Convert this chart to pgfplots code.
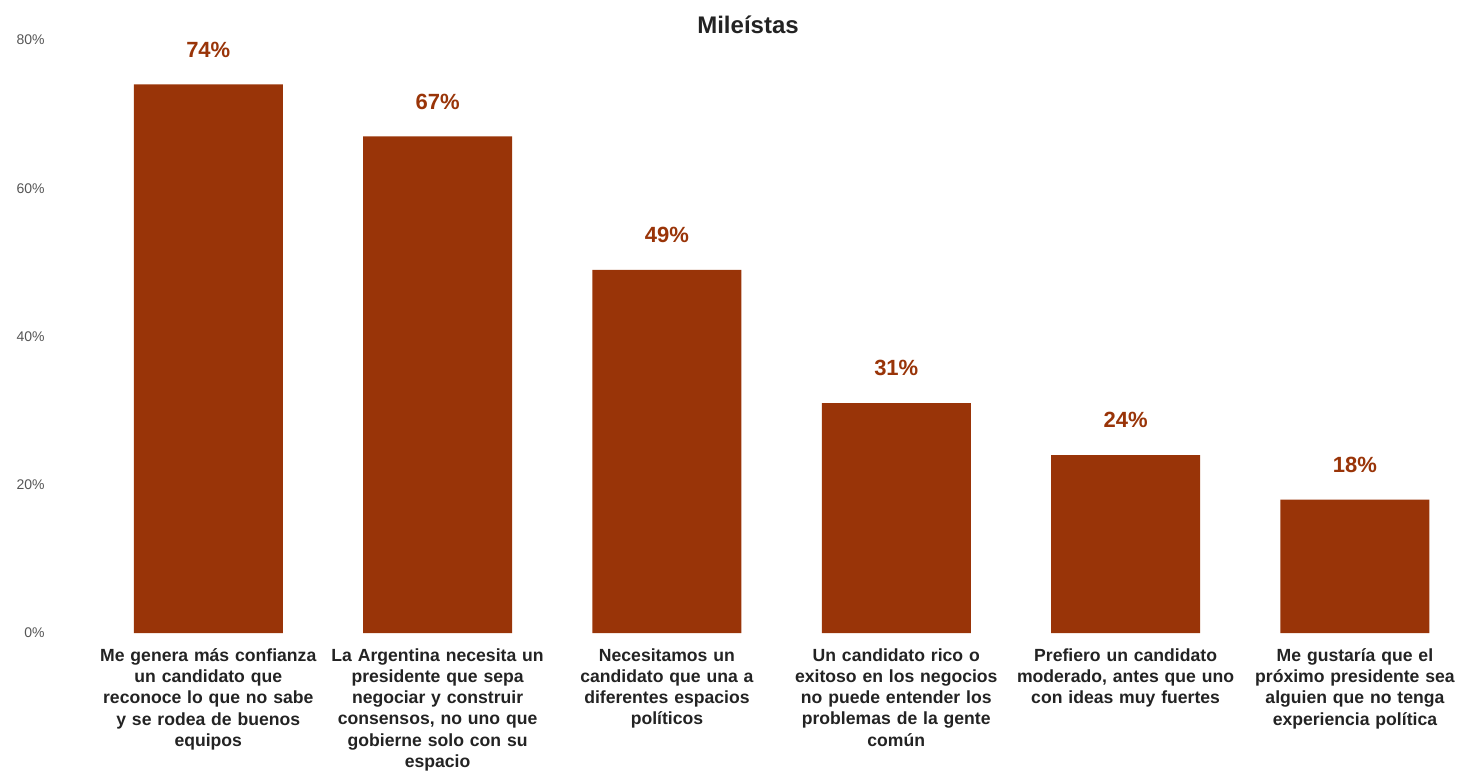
\documentclass[border=0pt]{standalone}
\usepackage{pgfplots}
\pgfplotsset{compat=1.18}
\usepackage{fontspec}
\setmainfont{Liberation Sans}
\definecolor{barc}{RGB}{153,52,8}
\definecolor{tickc}{RGB}{85,85,85}
\definecolor{catc}{RGB}{35,35,35}
\begin{document}
\begin{tikzpicture}[x=0.5pt,y=0.5pt]
\begin{axis}[
  at={(93.6pt*0.5,69.5pt)}, anchor=south west,
  scale only axis, width=688pt, height=296.5pt,
  xmin=-0.5, xmax=5.5, ymin=0, ymax=80,
  axis line style={draw=none}, tick style={draw=none},
  ybar, bar width=74.5pt,
  ytick={0,20,40,60,80},
  yticklabels={0\%,20\%,40\%,60\%,80\%},
  yticklabel style={font=\fontsize{7}{8}\selectfont, text=tickc, xshift=-21pt},
  xtick={0,1,2,3,4,5},
  xticklabels={
    {Me genera más confianza\\un candidato que\\reconoce lo que no sabe\\y se rodea de buenos\\equipos},
    {La Argentina necesita un\\presidente que sepa\\negociar y construir\\consensos, no uno que\\gobierne solo con su\\espacio},
    {Necesitamos un\\candidato que una a\\diferentes espacios\\políticos},
    {Un candidato rico o\\exitoso en los negocios\\no puede entender los\\problemas de la gente\\común},
    {Prefiero un candidato\\moderado, antes que uno\\con ideas muy fuertes},
    {Me gustaría que el\\próximo presidente sea\\alguien que no tenga\\experiencia política}},
  xticklabel style={font=\bfseries\fontsize{8.8}{10.6}\selectfont, text=catc, text width=130pt, align=center, anchor=north, yshift=0pt},
  nodes near coords={\pgfmathprintnumber{\pgfplotspointmeta}\%},
  nodes near coords style={font=\bfseries\fontsize{11}{13}\selectfont, text=barc, anchor=south, yshift=10pt},
  /pgf/number format/assume math mode=true,
]
\addplot[fill=barc, draw=none] coordinates {(0,74) (1,67) (2,49) (3,31) (4,24) (5,18)};
\end{axis}
\node[font=\bfseries\fontsize{12}{14}\selectfont, text=catc] at (748,772-25) {Mileístas};
\pgfresetboundingbox
\path[use as bounding box] (0,0) rectangle (1459,772);
\end{tikzpicture}
\end{document}
